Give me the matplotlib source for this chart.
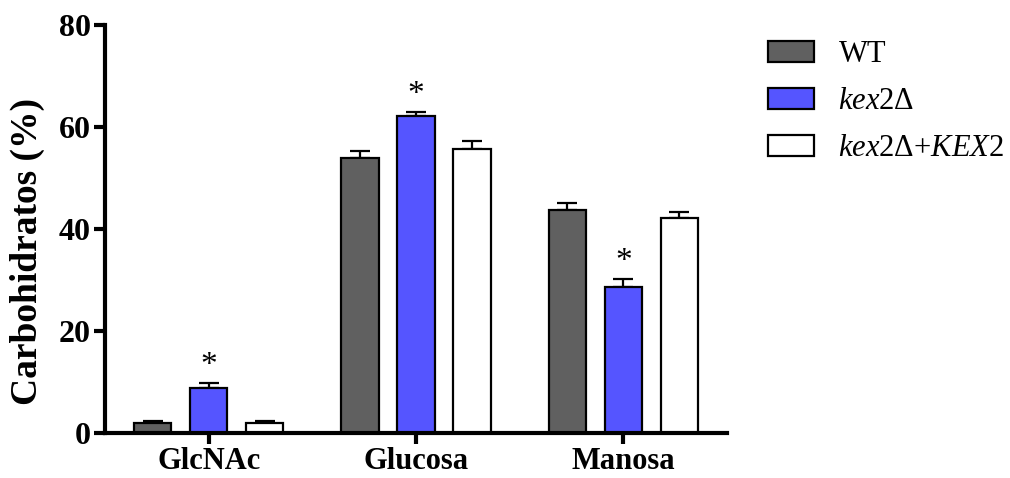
import matplotlib
matplotlib.use('Agg')
import matplotlib.pyplot as plt
import numpy as np

# carbohydrate composition of the cell wall (% of total)
categories = ['GlcNAc', 'Glucosa', 'Manosa']
strains = ['WT', r'$\mathit{kex2}\Delta$', r'$\mathit{kex2}\Delta\mathrm{+}\mathit{KEX2}$']
means = {
    'WT':    [2.0, 53.9, 43.7],
    'kex2':  [8.8, 62.2, 28.6],
    'comp':  [2.0, 55.7, 42.2],
}
sems = {
    'WT':    [0.4, 1.4, 1.4],
    'kex2':  [1.0, 0.8, 1.6],
    'comp':  [0.4, 1.6, 1.2],
}
colors = ['#606060', '#5555ff', '#ffffff']
yticks = [0, 20, 40, 60, 80]

plt.rcParams['font.family'] = ['Liberation Serif', 'DejaVu Serif']
plt.rcParams['mathtext.fontset'] = 'custom'
plt.rcParams['mathtext.rm'] = 'Liberation Serif'
plt.rcParams['mathtext.it'] = 'Liberation Serif:italic'
plt.rcParams['mathtext.bf'] = 'Liberation Serif:bold'

fig = plt.figure(figsize=(10.10, 4.78), dpi=100)
ax = fig.add_axes([105 / 1010, 1 - 433 / 478, 622 / 1010, 408 / 478])

x = np.arange(len(categories))
offset = 0.27
width = 0.18
for i, key in enumerate(['WT', 'kex2', 'comp']):
    pos = x + (i - 1) * offset
    ax.bar(pos, means[key], width, color=colors[i], edgecolor='black',
           linewidth=1.6, label=strains[i], zorder=2)
    ax.errorbar(pos, means[key], yerr=[np.zeros(3), sems[key]], fmt='none',
                ecolor='black', elinewidth=1.6, capsize=7, capthick=1.6, zorder=1)

# significance marks over the kex2 bars
for j in range(len(categories)):
    top = means['kex2'][j] + sems['kex2'][j]
    ax.text(x[j], top + 0.4, '*', ha='center', va='bottom', fontsize=24)

ax.set_xlim(-0.5, 2.5)
ax.set_ylim(0, 80)
ax.set_yticks(yticks)
ax.set_xticks(x)
ax.set_xticklabels(categories, fontsize=22, fontweight='bold')
ax.set_yticklabels([str(t) for t in yticks], fontsize=23, fontweight='bold')
ax.set_ylabel('Carbohidratos (%)', fontsize=27, fontweight='bold')
ax.yaxis.set_label_coords(-0.097, 0.445)

for side in ['top', 'right']:
    ax.spines[side].set_visible(False)
for side in ['left', 'bottom']:
    ax.spines[side].set_linewidth(3)
ax.tick_params(axis='both', width=3, length=8, pad=2)

ax.legend(loc='upper left', bbox_to_anchor=(756 / 1010, 1 - 28 / 478),
          bbox_transform=fig.transFigure, frameon=False, fontsize=22,
          handlelength=1.5, handleheight=0.7, handletextpad=0.8,
          labelspacing=0.59, borderaxespad=0)

fig.savefig('out.png', dpi=100)
